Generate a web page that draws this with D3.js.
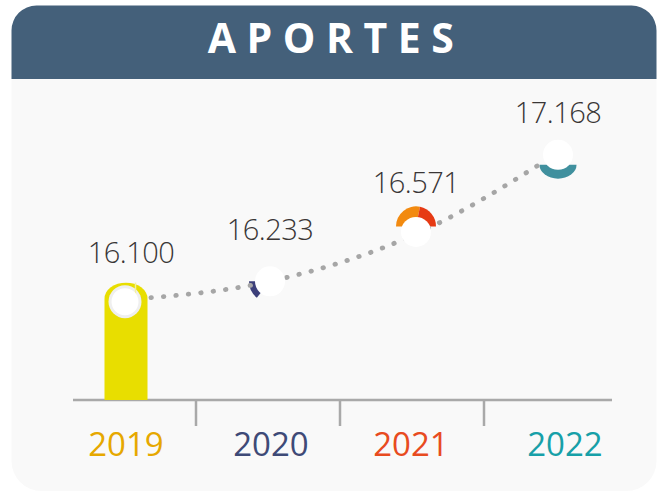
<!DOCTYPE html>
<html><head><meta charset="utf-8">
<script src="https://cdn.jsdelivr.net/npm/d3@7"></script>
<style>body{margin:0;background:#fff}svg{display:block}</style>
</head><body><svg id="c" width="664" height="492"></svg>
<script>
// ---- data ----
const title = "APORTES";
const years = ["2019", "2020", "2021", "2022"];
const values = [16.100, 16.233, 16.571, 17.168];
const valueLabels = ["16.100", "16.233", "16.571", "17.168"];
const yearColors = ["#e6a800", "#3e4a77", "#e84b1f", "#17a0a8"];

// ---- layout / style ----
const W = 664, H = 492;
const svg = d3.select("#c");
const cardL = 11.5, cardR = 656.5, cardT = 5.5, cardB = 491, headB = 79;
const baseY = 400;
const labelGap = [37, 41, 42, 30];      // vertical gap of value label above its point
const yearShift = [0, 1, -3, 7];         // small horizontal nudge of year labels

// card body
svg.append("path")
  .attr("d", `M${cardL},${headB} H${cardR} V${cardB-30} A30,30 0 0 1 ${cardR-30},${cardB} H${cardL+30} A30,30 0 0 1 ${cardL},${cardB-30} Z`)
  .attr("fill", "#f9f9f9");
// header
svg.append("path")
  .attr("d", `M${cardL},${headB} V${cardT+25} A25,25 0 0 1 ${cardL+25},${cardT} H${cardR-25} A25,25 0 0 1 ${cardR},${cardT+25} V${headB} Z`)
  .attr("fill", "#44607a");
svg.append("text")
  .attr("x", 336).attr("y", 53)
  .attr("text-anchor", "middle")
  .attr("fill", "#fff")
  .attr("font-family", "'Open Sans', sans-serif")
  .attr("font-weight", 700)
  .attr("font-size", 41)
  .attr("letter-spacing", 10.5)
  .text(title);

// scales
const x = d3.scaleBand().domain(years).range([54, 630]).padding(0);
const cx = d => x(d) + x.bandwidth() / 2;
const y = d3.scaleLinear().domain([15.37, 17.6]).range([baseY, 93.4]);

const data = years.map((yr, i) => ({ yr, v: values[i], label: valueLabels[i], color: yearColors[i], i }));

// axis line and separators
svg.append("line")
  .attr("x1", 73).attr("x2", 612).attr("y1", baseY).attr("y2", baseY)
  .attr("stroke", "#a9a9a9").attr("stroke-width", 2.5);
svg.selectAll("line.sep").data(years.slice(1)).enter().append("line")
  .attr("class", "sep")
  .attr("x1", d => x(d) - 2).attr("x2", d => x(d) - 2)
  .attr("y1", baseY).attr("y2", 426)
  .attr("stroke", "#a9a9a9").attr("stroke-width", 2.5);

// year labels
svg.selectAll("text.yr").data(data).enter().append("text")
  .attr("class", "yr")
  .attr("x", d => cx(d.yr) + yearShift[d.i]).attr("y", 456)
  .attr("text-anchor", "middle")
  .attr("fill", d => d.color)
  .attr("font-family", "'Open Sans', sans-serif")
  .attr("font-size", 33)
  .attr("font-weight", 500)
  .text(d => d.yr);

// ---- marks ----
const g = svg.append("g");
const d0 = data[0], d1 = data[1], d2 = data[2], d3v = data[3];

// 2019: rounded bar
{
  const c = cx(d0.yr), yy = y(d0.v) - 1, hw = 21.5;
  g.append("path")
    .attr("d", `M${c-hw},${baseY} V${yy} A${hw},16 0 0 1 ${c+hw},${yy} V${baseY} Z`)
    .attr("fill", "#e8de00");
}
// 2020: small navy wedge
g.append("path")
  .attr("transform", `translate(${cx(d1.yr)},${y(d1.v)})`)
  .attr("d", d3.arc()({ innerRadius: 0, outerRadius: 21, startAngle: 3.82, endAngle: Math.PI * 1.5 }))
  .attr("fill", "#3c3f7a");
// 2021: orange / red half ring
{
  const t = `translate(${cx(d2.yr) + 2},${y(d2.v) - 8.5})`;
  g.append("path").attr("transform", t)
    .attr("d", d3.arc()({ innerRadius: 0, outerRadius: 20, startAngle: -Math.PI / 2, endAngle: 0.2 }))
    .attr("fill", "#f28a10");
  g.append("path").attr("transform", t)
    .attr("d", d3.arc()({ innerRadius: 0, outerRadius: 20, startAngle: 0.2, endAngle: Math.PI / 2 }))
    .attr("fill", "#e63a14");
}
// 2022: teal lower half
g.append("path")
  .attr("transform", `translate(${cx(d3v.yr)},${y(d3v.v) + 12}) scale(1,0.75)`)
  .attr("d", d3.arc()({ innerRadius: 0, outerRadius: 18.5, startAngle: Math.PI / 2, endAngle: Math.PI * 1.5 }))
  .attr("fill", "#40909e");

// dotted trend line
const line = d3.line().x(d => cx(d.yr)).y(d => y(d.v)).curve(d3.curveMonotoneX);
svg.append("path")
  .attr("d", line(data))
  .attr("fill", "none")
  .attr("stroke", "#a6a6a6")
  .attr("stroke-width", 4.8)
  .attr("stroke-linecap", "round")
  .attr("stroke-dasharray", "0.5 12");

// white circles
const wc = svg.append("g");
wc.append("circle").attr("cx", cx(d0.yr) - 1).attr("cy", y(d0.v) + 2).attr("r", 16.5).attr("fill", "#efefef");
wc.append("line")
  .attr("x1", cx(d0.yr) + 9.5).attr("x2", cx(d0.yr) + 9.5)
  .attr("y1", y(d0.v) - 17).attr("y2", y(d0.v) - 3)
  .attr("stroke", "#f4f0a0").attr("stroke-width", 1.5);
wc.selectAll("circle.w").data(data).enter().append("circle")
  .attr("class", "w")
  .attr("cx", d => cx(d.yr) + (d.i === 0 ? -1 : d.i === 2 ? 2 : 0))
  .attr("cy", d => y(d.v) + (d.i === 0 ? 2 : d.i === 2 ? -3 : d.i === 3 ? 2 : 0))
  .attr("r", d => d.i === 0 ? 13.5 : 15)
  .attr("fill", "#fff");

// value labels
svg.selectAll("text.val").data(data).enter().append("text")
  .attr("class", "val")
  .attr("x", d => cx(d.yr) + (d.i === 0 ? 5 : d.i === 2 ? 2 : 0))
  .attr("y", d => y(d.v) - labelGap[d.i])
  .attr("text-anchor", "middle")
  .attr("fill", "#3a3636")
  .attr("font-family", "'Open Sans', sans-serif")
  .attr("font-weight", 300)
  .attr("font-size", 29)
  .attr("letter-spacing", -0.5)
  .text(d => d.label);
</script>
</body></html>
